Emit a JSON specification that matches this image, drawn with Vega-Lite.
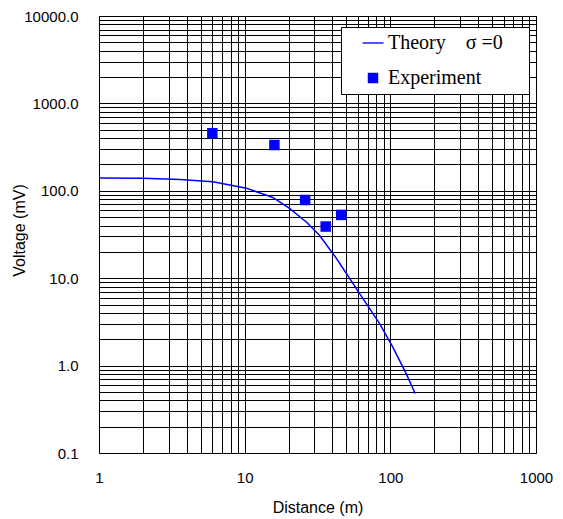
{
  "$schema": "https://vega.github.io/schema/vega-lite/v6.json",
  "width": 437,
  "height": 437,
  "autosize": {"type": "none"},
  "padding": {"left": 99, "top": 16, "right": 27, "bottom": 66},
  "background": "white",
  "config": {
    "view": {"stroke": "black", "strokeWidth": 1},
    "axis": {
      "grid": true,
      "gridColor": "black",
      "gridWidth": 1,
      "gridOpacity": 1,
      "ticks": false,
      "domain": false,
      "labelFont": "Liberation Sans",
      "labelFontSize": 15,
      "labelColor": "black",
      "titleFont": "Liberation Sans",
      "titleFontSize": 16,
      "titleFontWeight": "normal",
      "titleColor": "black"
    }
  },
  "datasets": {
    "theory": [
      {"distance": 1, "voltage": 140},
      {"distance": 2, "voltage": 139},
      {"distance": 3.6, "voltage": 135},
      {"distance": 6.05, "voltage": 127},
      {"distance": 10.3, "voltage": 107},
      {"distance": 15.6, "voltage": 84},
      {"distance": 20.3, "voltage": 63},
      {"distance": 26.5, "voltage": 44},
      {"distance": 32.6, "voltage": 31},
      {"distance": 42.5, "voltage": 17},
      {"distance": 49.8, "voltage": 11.4},
      {"distance": 61.4, "voltage": 6.7},
      {"distance": 84.2, "voltage": 3.05},
      {"distance": 103.8, "voltage": 1.64},
      {"distance": 128, "voltage": 0.82},
      {"distance": 148, "voltage": 0.48}
    ],
    "experiment": [
      {"distance": 6, "voltage": 455, "series": "Experiment"},
      {"distance": 16, "voltage": 334, "series": "Experiment"},
      {"distance": 26, "voltage": 78.5, "series": "Experiment"},
      {"distance": 36, "voltage": 39, "series": "Experiment"},
      {"distance": 46, "voltage": 53, "series": "Experiment"}
    ]
  },
  "layer": [
    {
      "data": {"name": "theory"},
      "mark": {"type": "line", "color": "#0000ff", "strokeWidth": 1.5, "clip": true},
      "encoding": {
        "x": {
          "field": "distance",
          "type": "quantitative",
          "scale": {"type": "log", "domain": [1, 1000], "nice": false},
          "axis": {
            "title": "Distance (m)",
            "values": [1, 2, 3, 4, 5, 6, 7, 8, 9, 10, 20, 30, 40, 50, 60, 70, 80, 90, 100, 200, 300, 400, 500, 600, 700, 800, 900, 1000],
            "labelExpr": "indexof(['1', '10', '100', '1000'], toString(datum.value)) >= 0 ? toString(datum.value) : ''",
            "labelPadding": 17,
            "labelOverlap": false,
            "labelFlush": false,
            "titleBaseline": "alphabetic",
            "titleY": 59
          }
        },
        "y": {
          "field": "voltage",
          "type": "quantitative",
          "scale": {"type": "log", "domain": [0.1, 10000], "nice": false},
          "axis": {
            "title": "Voltage (mV)",
            "values": [0.1, 0.2, 0.3, 0.4, 0.5, 0.6, 0.7, 0.8, 0.9, 1, 2, 3, 4, 5, 6, 7, 8, 9, 10, 20, 30, 40, 50, 60, 70, 80, 90, 100, 200, 300, 400, 500, 600, 700, 800, 900, 1000, 2000, 3000, 4000, 5000, 6000, 7000, 8000, 9000, 10000],
            "labelExpr": "indexof(['0.1', '1', '10', '100', '1000', '10000'], toString(datum.value)) >= 0 ? (datum.value < 1 ? '0.1' : format(datum.value, '.1f')) : ''",
            "labelPadding": 21,
            "labelOverlap": false,
            "labelFlush": false,
            "titleAngle": 270,
            "titleBaseline": "alphabetic",
            "titleAlign": "center",
            "titleX": -75,
            "titleY": 214
          }
        }
      }
    },
    {
      "data": {"name": "experiment"},
      "mark": {"type": "point", "filled": true, "color": "#0000ff", "size": 110, "opacity": 1},
      "encoding": {
        "x": {"field": "distance", "type": "quantitative"},
        "y": {"field": "voltage", "type": "quantitative"},
        "shape": {
          "field": "series",
          "type": "nominal",
          "scale": {"domain": ["Theory\u00a0\u00a0\u00a0\u00a0σ\u00a0=0", "Experiment"], "range": ["M-2,-0.13L2,-0.13L2,0.13L-2,0.13Z", "square"]},
          "legend": {
            "title": null,
            "orient": "none",
            "legendX": 242,
            "legendY": 11,
            "padding": 6,
            "strokeColor": "black",
            "fillColor": "white",
            "labelFont": "Liberation Serif",
            "labelFontSize": 20,
            "labelColor": "black",
            "labelLimit": 300,
            "labelOffset": 5,
            "labelExpr": "datum.label + '\u00a0\u2800'",
            "symbolOffset": 16,
            "symbolSize": 110,
            "symbolFillColor": "#0000ff",
            "symbolStrokeColor": "#0000ff",
            "symbolStrokeWidth": 0,
            "symbolOpacity": 1,
            "rowPadding": 15
          }
        }
      }
    }
  ]
}
